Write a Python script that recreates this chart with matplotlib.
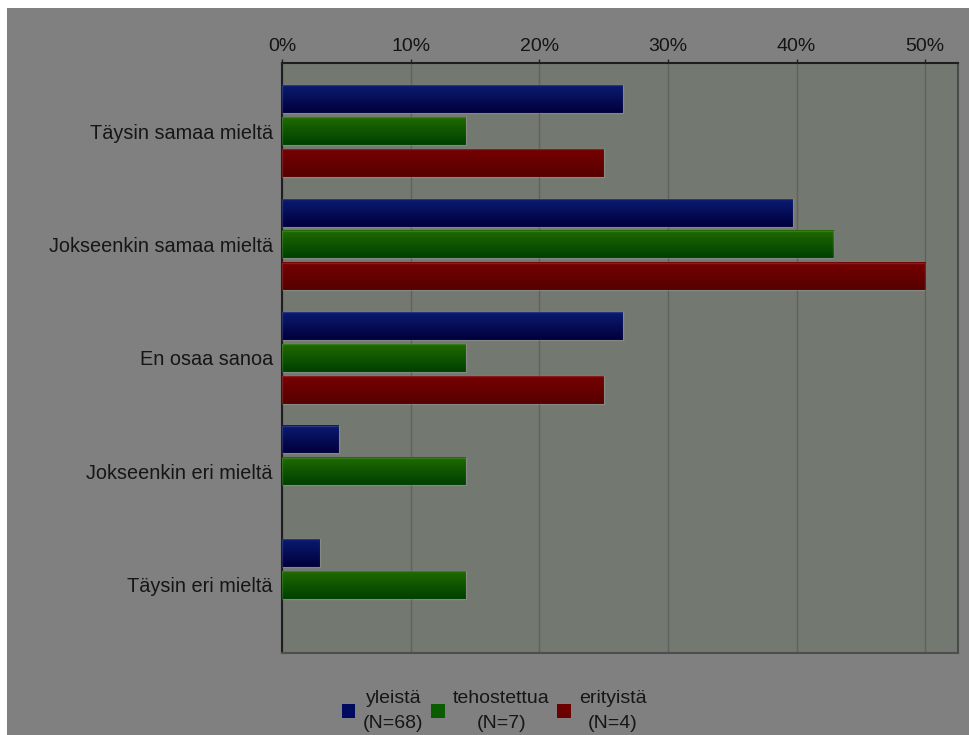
import numpy as np
import matplotlib
matplotlib.use("Agg")
import matplotlib.pyplot as plt
from matplotlib.colors import LinearSegmentedColormap
from matplotlib.patches import Rectangle

categories = ["Täysin samaa mieltä", "Jokseenkin samaa mieltä", "En osaa sanoa",
              "Jokseenkin eri mieltä", "Täysin eri mieltä"]
series_names = ["yleistä\n(N=68)", "tehostettua\n(N=7)", "erityistä\n(N=4)"]
yleista = [26.47, 39.71, 26.47, 4.41, 2.94]
tehostettua = [14.29, 42.86, 14.29, 14.29, 14.29]
erityista = [25.0, 50.0, 25.0, 0.0, 0.0]
x_ticks = [0, 10, 20, 30, 40, 50]
x_ticklabels = ["0%", "10%", "20%", "30%", "40%", "50%"]

series = [yleista, tehostettua, erityista]
# (top colour, bottom colour) of each series' vertical gradient
grad = [("#0b1a70", "#00003c"), ("#1f6a00", "#004000"), ("#760000", "#560000")]
legend_colors = ["#000a5e", "#0b5c00", "#6a0000"]

plt.rcParams["font.family"] = ["Liberation Sans", "DejaVu Sans"]

W, H = 970, 735
fig = plt.figure(figsize=(W / 100, H / 100), dpi=100, facecolor="white")
# grey canvas leaving a thin white strip at the top and left
fig.patches.append(Rectangle((7 / W, 0), 1, 1 - 8 / H, transform=fig.transFigure,
                             facecolor="#808080", edgecolor="none", zorder=-10))

left, right, top, bottom = 282, 958, 63, 653
ax = fig.add_axes([left / W, 1 - bottom / H, (right - left) / W, (bottom - top) / H])
ax.set_facecolor("#737870")

step = 0.2815
height = 0.246
offsets = [-step, 0.0, step]
y = np.arange(len(categories))

for s, vals in enumerate(series):
    bars = ax.barh(y + offsets[s], vals, height=height, color="none",
                   edgecolor="none", zorder=3)
    cmap = LinearSegmentedColormap.from_list("g%d" % s, [grad[s][0], grad[s][1]])
    for b in bars:
        x0, y0 = b.get_x(), b.get_y()
        w, h = b.get_width(), b.get_height()
        if w <= 0:
            continue
        img = np.linspace(0, 1, 32).reshape(-1, 1)
        ax.imshow(img, extent=(x0, x0 + w, y0 + h, y0), cmap=cmap, aspect="auto",
                  origin="upper", zorder=3, interpolation="bilinear")
        ax.add_patch(Rectangle((x0, y0), w, h, facecolor="none",
                               edgecolor=(1, 1, 1, 0.12), linewidth=1.0, zorder=4))

ax.set_xlim(0, 52.55)
ax.set_ylim(4.6, -0.6)

ax.set_xticks(x_ticks)
ax.set_xticklabels(x_ticklabels, fontsize=14, color="#141414")
ax.xaxis.tick_top()
ax.tick_params(axis="x", direction="out", length=2.7, width=1, color="#222222", pad=3)
ax.grid(axis="x", color="#5f6360", linewidth=1.0, zorder=1)
ax.set_axisbelow(True)

ax.set_yticks(y)
ax.set_yticklabels(categories, fontsize=14.3, color="#161616")
ax.tick_params(axis="y", length=0, pad=6.5)

for side, c in [("left", "#1e1e1e"), ("top", "#1e1e1e"), ("right", "#4a4a4a"),
                ("bottom", "#4e4e4e")]:
    ax.spines[side].set_color(c)
    ax.spines[side].set_linewidth(1.5)

handles = [Rectangle((0, 0), 1, 1, facecolor=c, edgecolor="none") for c in legend_colors]
leg = fig.legend(handles, series_names, loc="center", bbox_to_anchor=(494 / W, 1 - 711 / H),
                 ncol=3, frameon=False, fontsize=14, handlelength=0.7, handleheight=0.7,
                 handletextpad=0.4, columnspacing=0.4, labelspacing=0.2,
                 borderpad=0, borderaxespad=0)
for t in leg.get_texts():
    t.set_color("#161616")
    t.set_multialignment("center")
    t.set_linespacing(1.6)

fig.savefig("out.png", dpi=100, facecolor=fig.get_facecolor())
